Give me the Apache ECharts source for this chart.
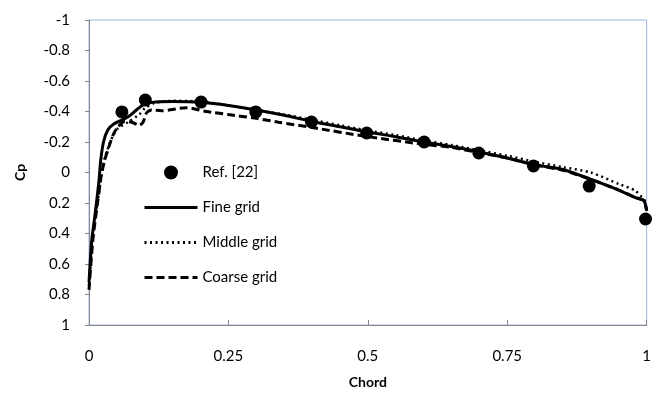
<!DOCTYPE html>
<html>
<head>
<meta charset="utf-8">
<script src="https://cdn.jsdelivr.net/npm/echarts@6/dist/echarts.min.js"></script>
<style>
  html, body { margin: 0; padding: 0; background: #fff; }
  #chart { width: 654px; height: 394px; }
</style>
</head>
<body>
<div id="chart"></div>
<script>
// Pressure coefficient along the chord: reference data vs three grid resolutions
const refChord = [0.059, 0.101, 0.201, 0.299, 0.399, 0.498, 0.601, 0.699, 0.797, 0.897, 0.998];
const refCp    = [-0.397, -0.475, -0.462, -0.397, -0.331, -0.259, -0.2, -0.128, -0.043, 0.089, 0.305];

const fineChord = [0, 0.005, 0.01, 0.014, 0.018, 0.021, 0.026, 0.034, 0.045, 0.06, 0.072, 0.085, 0.1, 0.12, 0.15, 0.2, 0.25, 0.3, 0.35, 0.4, 0.45, 0.5, 0.55, 0.6, 0.65, 0.7, 0.75, 0.8, 0.85, 0.9, 0.95, 0.98, 0.995, 1];
const fineCp    = [0.72, 0.44, 0.3, 0.18, 0.05, -0.08, -0.2, -0.28, -0.32, -0.345, -0.37, -0.41, -0.45, -0.462, -0.465, -0.46, -0.44, -0.41, -0.375, -0.335, -0.3, -0.265, -0.235, -0.2, -0.17, -0.135, -0.095, -0.05, -0.02, 0.045, 0.115, 0.165, 0.185, 0.25];

const middleChord = [0, 0.005, 0.01, 0.016, 0.022, 0.028, 0.036, 0.043, 0.052, 0.07, 0.09, 0.1, 0.117, 0.15, 0.2, 0.25, 0.3, 0.35, 0.4, 0.45, 0.5, 0.55, 0.6, 0.65, 0.7, 0.75, 0.8, 0.85, 0.9, 0.95, 0.98, 1];
const middleCp    = [0.74, 0.5, 0.32, 0.18, 0.03, -0.09, -0.18, -0.24, -0.29, -0.33, -0.38, -0.42, -0.455, -0.47, -0.465, -0.44, -0.41, -0.38, -0.345, -0.31, -0.275, -0.245, -0.21, -0.18, -0.145, -0.11, -0.07, -0.035, 0.0, 0.075, 0.12, 0.2];

const coarseChord = [0, 0.007, 0.016, 0.022, 0.028, 0.034, 0.043, 0.052, 0.064, 0.077, 0.09, 0.097, 0.103, 0.112, 0.13, 0.175, 0.21, 0.25, 0.3, 0.34, 0.4, 0.5, 0.6, 0.65, 0.7, 0.75, 0.8, 0.85, 0.9, 0.95, 0.98, 0.995, 1];
const coarseCp    = [0.77, 0.44, 0.18, 0.02, -0.08, -0.15, -0.245, -0.3, -0.335, -0.33, -0.31, -0.33, -0.39, -0.41, -0.405, -0.425, -0.4, -0.38, -0.355, -0.33, -0.295, -0.235, -0.185, -0.165, -0.13, -0.095, -0.05, -0.015, 0.045, 0.115, 0.165, 0.185, 0.25];

const seriesNames = ['Ref. [22]', 'Fine grid', 'Middle grid', 'Coarse grid'];

const pairs = (xs, ys) => xs.map((x, i) => [x, ys[i]]);
const FONT = 'Lato';

const chart = echarts.init(document.getElementById('chart'), null, { renderer: 'canvas' });

// line entries in the legend show only the stroke, no symbol
const lineLegendItem = (name, dash) => ({
  name,
  itemStyle: { opacity: 0 },
  lineStyle: { color: '#000', width: 3, type: dash }
});

chart.setOption({
  animation: false,
  backgroundColor: '#fff',
  color: ['#000', '#000', '#000', '#000'],
  textStyle: { fontFamily: FONT },
  grid: {
    left: 89, right: 3, top: 20, bottom: 69,
    show: true, borderColor: '#9DB9E0', borderWidth: 1, backgroundColor: 'transparent'
  },
  legend: {
    data: [
      { name: seriesNames[0], itemStyle: { color: '#000', opacity: 1 } },
      lineLegendItem(seriesNames[1], 'solid'),
      lineLegendItem(seriesNames[2], [2, 3.5]),
      lineLegendItem(seriesNames[3], [8, 4])
    ],
    orient: 'vertical',
    left: 138, top: 160,
    itemWidth: 53, itemHeight: 14, itemGap: 20,
    textStyle: { fontFamily: FONT, fontSize: 15, color: '#000' }
  },
  xAxis: {
    type: 'value', min: 0, max: 1, interval: 0.25,
    name: 'Chord', nameLocation: 'middle', nameGap: 50,
    nameTextStyle: { fontFamily: FONT, fontSize: 14, fontWeight: 'bold', color: '#000' },
    axisLine: { onZero: false, lineStyle: { color: '#868686', width: 1 } },
    axisTick: { inside: true, length: 5, lineStyle: { color: '#868686' } },
    axisLabel: { fontFamily: FONT, fontSize: 15, color: '#000', margin: 24 },
    splitLine: { show: false }
  },
  yAxis: {
    type: 'value', min: -1, max: 1, interval: 0.2, inverse: true,
    name: 'Cp', nameLocation: 'middle', nameGap: 62, nameRotate: 90,
    nameTextStyle: { fontFamily: FONT, fontSize: 14, fontWeight: 'bold', color: '#000' },
    axisLine: { onZero: false, lineStyle: { color: '#868686', width: 1 } },
    axisTick: { inside: false, length: 4, lineStyle: { color: '#868686' } },
    axisLabel: { fontFamily: FONT, fontSize: 15, color: '#000', margin: 19 },
    splitLine: { show: false }
  },
  series: [
    {
      name: seriesNames[1], type: 'line', data: pairs(fineChord, fineCp),
      showSymbol: false, symbol: 'none', smooth: 0.25,
      itemStyle: { color: '#000' },
      lineStyle: { color: '#000', width: 3, type: 'solid' }, z: 3
    },
    {
      name: seriesNames[2], type: 'line', data: pairs(middleChord, middleCp),
      showSymbol: false, symbol: 'none', smooth: 0.25,
      itemStyle: { color: '#000' },
      lineStyle: { color: '#000', width: 2.5, type: [2, 3.5] }, z: 2
    },
    {
      name: seriesNames[3], type: 'line', data: pairs(coarseChord, coarseCp),
      showSymbol: false, symbol: 'none', smooth: 0.25,
      itemStyle: { color: '#000' },
      lineStyle: { color: '#000', width: 3, type: [8, 4] }, z: 2
    },
    {
      name: seriesNames[0], type: 'scatter', data: pairs(refChord, refCp),
      symbol: 'circle', symbolSize: 13,
      itemStyle: { color: '#000', opacity: 1 }, z: 4
    }
  ]
});
</script>
</body>
</html>
